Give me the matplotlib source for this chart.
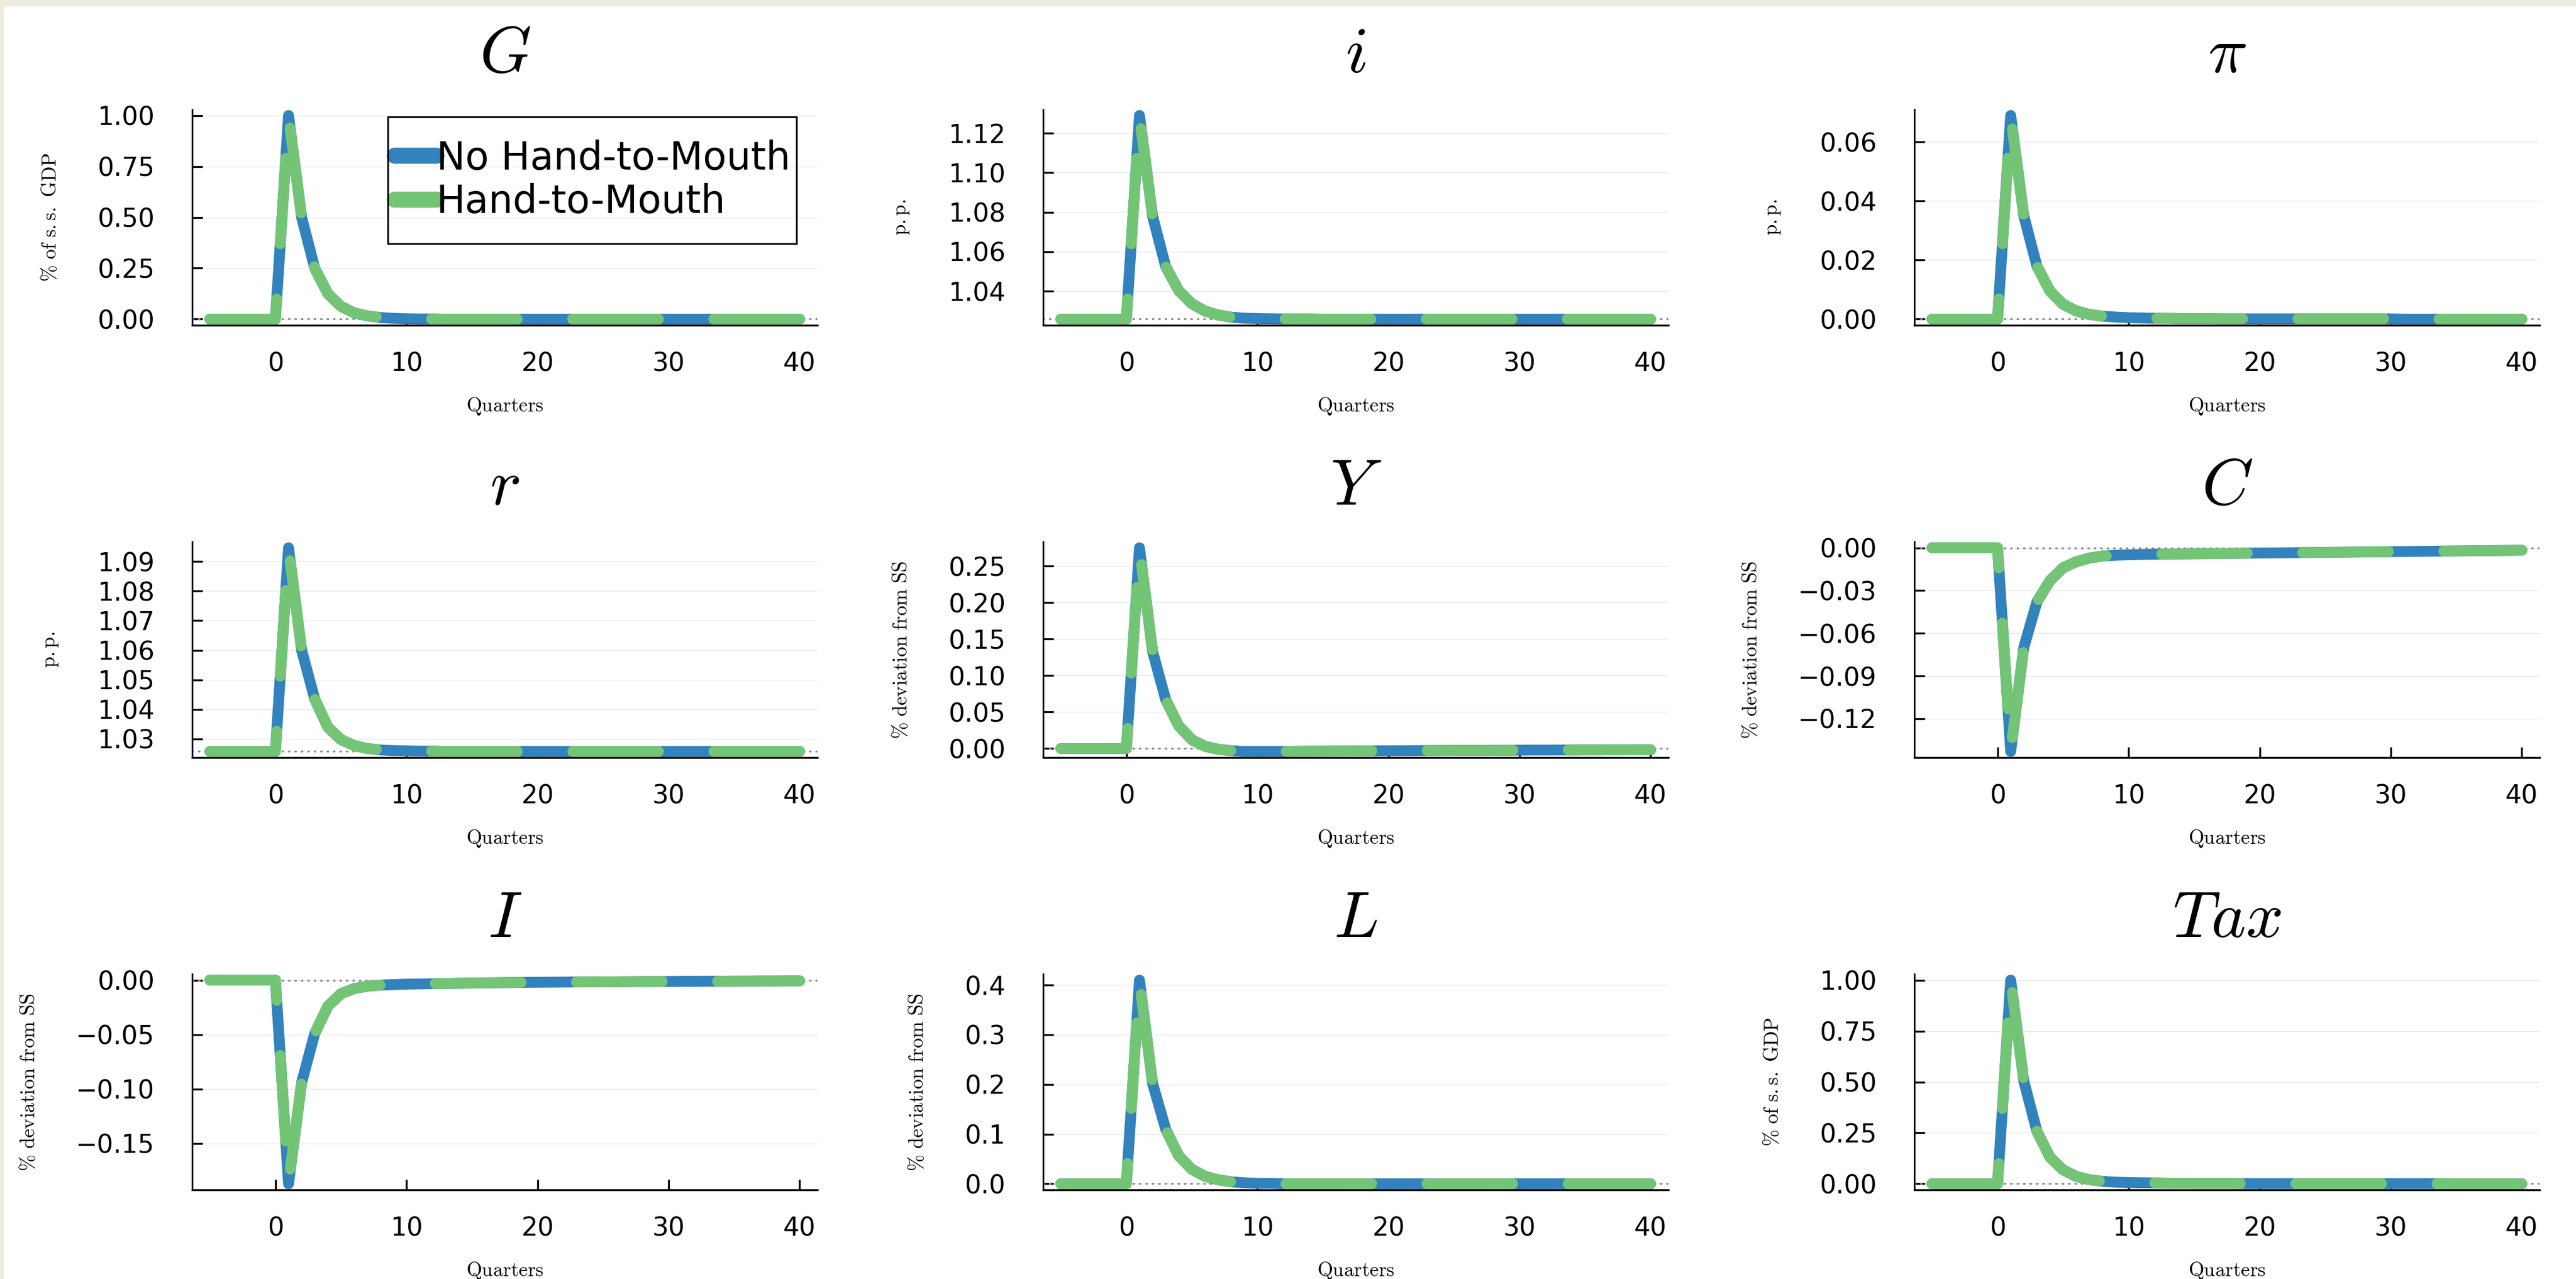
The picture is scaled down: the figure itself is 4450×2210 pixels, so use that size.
import numpy as np
import matplotlib
matplotlib.use("Agg")
import matplotlib.pyplot as plt
from matplotlib.patches import Rectangle
from matplotlib.ticker import FixedLocator, FuncFormatter

plt.rcParams['font.family'] = 'DejaVu Sans'
plt.rcParams['mathtext.fontset'] = 'cm'

# quarters relative to the shock
quarters = np.arange(-5, 41)

# steady-state levels (pre-shock values)
ss_zero = 0.0
ss_rate = 1.0258

# impulse responses, quarters 1..40 (No Hand-to-Mouth)
G_no = [1.000, 0.500, 0.250, 0.125, 0.063, 0.031, 0.016, 0.008, 0.004, 0.002,
        0.001, 0.001, 0.000, 0.000, 0.000, 0.000, 0.000, 0.000, 0.000, 0.000,
        0.000, 0.000, 0.000, 0.000, 0.000, 0.000, 0.000, 0.000, 0.000, 0.000,
        0.000, 0.000, 0.000, 0.000, 0.000, 0.000, 0.000, 0.000, 0.000, 0.000]
i_no = [1.1290, 1.0780, 1.0524, 1.0402, 1.0336, 1.0299, 1.0279, 1.0268, 1.0263, 1.0261,
        1.0260, 1.0259, 1.0259, 1.0259, 1.0258, 1.0258, 1.0258, 1.0258, 1.0258, 1.0258,
        1.0258, 1.0258, 1.0258, 1.0258, 1.0258, 1.0258, 1.0258, 1.0258, 1.0258, 1.0258,
        1.0258, 1.0258, 1.0258, 1.0258, 1.0258, 1.0258, 1.0258, 1.0258, 1.0258, 1.0258]
pi_no = [0.0690, 0.0350, 0.0180, 0.0095, 0.0050, 0.0028, 0.0016, 0.0010, 0.0007, 0.0005,
         0.0004, 0.0003, 0.0003, 0.0002, 0.0002, 0.0002, 0.0001, 0.0001, 0.0001, 0.0001,
         0.0001, 0.0001, 0.0001, 0.0001, 0.0001, 0.0001, 0.0001, 0.0001, 0.0001, 0.0001,
         0.0000, 0.0000, 0.0000, 0.0000, 0.0000, 0.0000, 0.0000, 0.0000, 0.0000, 0.0000]
r_no = [1.0946, 1.0600, 1.0435, 1.0340, 1.0298, 1.0278, 1.0268, 1.0263, 1.0261, 1.0260,
        1.0259, 1.0259, 1.0258, 1.0258, 1.0258, 1.0258, 1.0258, 1.0258, 1.0258, 1.0258,
        1.0258, 1.0258, 1.0258, 1.0258, 1.0258, 1.0258, 1.0258, 1.0258, 1.0258, 1.0258,
        1.0258, 1.0258, 1.0258, 1.0258, 1.0258, 1.0258, 1.0258, 1.0258, 1.0258, 1.0258]
Y_no = [0.2750, 0.1330, 0.0670, 0.0310, 0.0120, 0.0030, -0.0010, -0.0030, -0.0040, -0.0040,
        -0.0040, -0.0040, -0.0038, -0.0037, -0.0036, -0.0035, -0.0034, -0.0033, -0.0032, -0.0031,
        -0.0030, -0.0029, -0.0028, -0.0027, -0.0026, -0.0025, -0.0024, -0.0023, -0.0023, -0.0022,
        -0.0021, -0.0021, -0.0020, -0.0020, -0.0019, -0.0019, -0.0018, -0.0018, -0.0017, -0.0017]
C_no = [-0.1430, -0.0700, -0.0380, -0.0230, -0.0140, -0.0098, -0.0072, -0.0058, -0.0052, -0.0049,
        -0.0047, -0.0045, -0.0044, -0.0043, -0.0042, -0.0041, -0.0040, -0.0039, -0.0038, -0.0037,
        -0.0036, -0.0035, -0.0034, -0.0033, -0.0032, -0.0031, -0.0030, -0.0029, -0.0028, -0.0027,
        -0.0026, -0.0025, -0.0024, -0.0023, -0.0022, -0.0021, -0.0020, -0.0019, -0.0018, -0.0017]
I_no = [-0.1870, -0.0940, -0.0490, -0.0240, -0.0125, -0.0078, -0.0056, -0.0046, -0.0041, -0.0037,
        -0.0035, -0.0033, -0.0031, -0.0029, -0.0027, -0.0025, -0.0024, -0.0022, -0.0021, -0.0020,
        -0.0019, -0.0018, -0.0017, -0.0016, -0.0015, -0.0015, -0.0014, -0.0013, -0.0013, -0.0012,
        -0.0011, -0.0011, -0.0010, -0.0010, -0.0009, -0.0009, -0.0008, -0.0008, -0.0007, -0.0007]
L_no = [0.410, 0.202, 0.110, 0.056, 0.029, 0.015, 0.008, 0.004, 0.002, 0.001,
        0.001, 0.000, 0.000, 0.000, 0.000, 0.000, 0.000, 0.000, 0.000, 0.000,
        0.000, 0.000, 0.000, 0.000, 0.000, 0.000, 0.000, 0.000, 0.000, 0.000,
        0.000, 0.000, 0.000, 0.000, 0.000, 0.000, 0.000, 0.000, 0.000, 0.000]
Tax_no = [1.000, 0.505, 0.258, 0.130, 0.068, 0.036, 0.020, 0.012, 0.008, 0.006,
          0.005, 0.004, 0.003, 0.003, 0.002, 0.002, 0.002, 0.002, 0.001, 0.001,
          0.001, 0.001, 0.001, 0.001, 0.001, 0.001, 0.001, 0.001, 0.001, 0.001,
          0.001, 0.001, 0.001, 0.001, 0.000, 0.000, 0.000, 0.000, 0.000, 0.000]

# impulse responses, quarters 1..40 (Hand-to-Mouth)
G_htm = [1.000, 0.500, 0.250, 0.125, 0.063, 0.031, 0.016, 0.008, 0.004, 0.002,
         0.001, 0.001, 0.000, 0.000, 0.000, 0.000, 0.000, 0.000, 0.000, 0.000,
         0.000, 0.000, 0.000, 0.000, 0.000, 0.000, 0.000, 0.000, 0.000, 0.000,
         0.000, 0.000, 0.000, 0.000, 0.000, 0.000, 0.000, 0.000, 0.000, 0.000]
i_htm = [1.1288, 1.0779, 1.0524, 1.0402, 1.0336, 1.0299, 1.0279, 1.0268, 1.0263, 1.0261,
         1.0260, 1.0259, 1.0259, 1.0259, 1.0258, 1.0258, 1.0258, 1.0258, 1.0258, 1.0258,
         1.0258, 1.0258, 1.0258, 1.0258, 1.0258, 1.0258, 1.0258, 1.0258, 1.0258, 1.0258,
         1.0258, 1.0258, 1.0258, 1.0258, 1.0258, 1.0258, 1.0258, 1.0258, 1.0258, 1.0258]
pi_htm = [0.0688, 0.0350, 0.0180, 0.0095, 0.0050, 0.0028, 0.0016, 0.0010, 0.0007, 0.0005,
          0.0004, 0.0003, 0.0003, 0.0002, 0.0002, 0.0002, 0.0001, 0.0001, 0.0001, 0.0001,
          0.0001, 0.0001, 0.0001, 0.0001, 0.0001, 0.0001, 0.0001, 0.0001, 0.0001, 0.0001,
          0.0000, 0.0000, 0.0000, 0.0000, 0.0000, 0.0000, 0.0000, 0.0000, 0.0000, 0.0000]
r_htm = [1.0945, 1.0600, 1.0435, 1.0340, 1.0298, 1.0278, 1.0268, 1.0263, 1.0261, 1.0260,
         1.0259, 1.0259, 1.0258, 1.0258, 1.0258, 1.0258, 1.0258, 1.0258, 1.0258, 1.0258,
         1.0258, 1.0258, 1.0258, 1.0258, 1.0258, 1.0258, 1.0258, 1.0258, 1.0258, 1.0258,
         1.0258, 1.0258, 1.0258, 1.0258, 1.0258, 1.0258, 1.0258, 1.0258, 1.0258, 1.0258]
Y_htm = [0.2740, 0.1330, 0.0670, 0.0310, 0.0120, 0.0030, -0.0010, -0.0030, -0.0040, -0.0040,
         -0.0040, -0.0040, -0.0038, -0.0037, -0.0036, -0.0035, -0.0034, -0.0033, -0.0032, -0.0031,
         -0.0030, -0.0029, -0.0028, -0.0027, -0.0026, -0.0025, -0.0024, -0.0023, -0.0023, -0.0022,
         -0.0021, -0.0021, -0.0020, -0.0020, -0.0019, -0.0019, -0.0018, -0.0018, -0.0017, -0.0017]
C_htm = [-0.1425, -0.0700, -0.0380, -0.0230, -0.0140, -0.0098, -0.0072, -0.0058, -0.0052, -0.0049,
         -0.0047, -0.0045, -0.0044, -0.0043, -0.0042, -0.0041, -0.0040, -0.0039, -0.0038, -0.0037,
         -0.0036, -0.0035, -0.0034, -0.0033, -0.0032, -0.0031, -0.0030, -0.0029, -0.0028, -0.0027,
         -0.0026, -0.0025, -0.0024, -0.0023, -0.0022, -0.0021, -0.0020, -0.0019, -0.0018, -0.0017]
I_htm = [-0.1860, -0.0940, -0.0490, -0.0240, -0.0125, -0.0078, -0.0056, -0.0046, -0.0041, -0.0037,
         -0.0035, -0.0033, -0.0031, -0.0029, -0.0027, -0.0025, -0.0024, -0.0022, -0.0021, -0.0020,
         -0.0019, -0.0018, -0.0017, -0.0016, -0.0015, -0.0015, -0.0014, -0.0013, -0.0013, -0.0012,
         -0.0011, -0.0011, -0.0010, -0.0010, -0.0009, -0.0009, -0.0008, -0.0008, -0.0007, -0.0007]
L_htm = [0.408, 0.202, 0.110, 0.056, 0.029, 0.015, 0.008, 0.004, 0.002, 0.001,
         0.001, 0.000, 0.000, 0.000, 0.000, 0.000, 0.000, 0.000, 0.000, 0.000,
         0.000, 0.000, 0.000, 0.000, 0.000, 0.000, 0.000, 0.000, 0.000, 0.000,
         0.000, 0.000, 0.000, 0.000, 0.000, 0.000, 0.000, 0.000, 0.000, 0.000]
Tax_htm = [1.000, 0.505, 0.258, 0.130, 0.068, 0.036, 0.020, 0.012, 0.008, 0.006,
           0.005, 0.004, 0.003, 0.003, 0.002, 0.002, 0.002, 0.002, 0.001, 0.001,
           0.001, 0.001, 0.001, 0.001, 0.001, 0.001, 0.001, 0.001, 0.001, 0.001,
           0.001, 0.001, 0.001, 0.001, 0.000, 0.000, 0.000, 0.000, 0.000, 0.000]

titles = [r'$G$', r'$i$', r'$\pi$', r'$r$', r'$Y$', r'$C$', r'$I$', r'$L$', r'$Tax$']
ylabels = [r'$\mathrm{\%\ of\ s.s.\ GDP}$', r'$\mathrm{p.p.}$', r'$\mathrm{p.p.}$',
           r'$\mathrm{p.p.}$', r'$\mathrm{\%\ deviation\ from\ SS}$', r'$\mathrm{\%\ deviation\ from\ SS}$',
           r'$\mathrm{\%\ deviation\ from\ SS}$', r'$\mathrm{\%\ deviation\ from\ SS}$', r'$\mathrm{\%\ of\ s.s.\ GDP}$']
steady = [ss_zero, ss_rate, ss_zero, ss_rate, ss_zero, ss_zero, ss_zero, ss_zero, ss_zero]
series_no = [G_no, i_no, pi_no, r_no, Y_no, C_no, I_no, L_no, Tax_no]
series_htm = [G_htm, i_htm, pi_htm, r_htm, Y_htm, C_htm, I_htm, L_htm, Tax_htm]
yticks = [[0.0, 0.25, 0.5, 0.75, 1.0],
          [1.04, 1.06, 1.08, 1.10, 1.12],
          [0.0, 0.02, 0.04, 0.06],
          [1.03, 1.04, 1.05, 1.06, 1.07, 1.08, 1.09],
          [0.0, 0.05, 0.10, 0.15, 0.20, 0.25],
          [-0.12, -0.09, -0.06, -0.03, 0.0],
          [-0.15, -0.10, -0.05, 0.0],
          [0.0, 0.1, 0.2, 0.3, 0.4],
          [0.0, 0.25, 0.5, 0.75, 1.0]]
ydigits = [2, 2, 2, 2, 2, 2, 2, 1, 2]
xticks = [0, 10, 20, 30, 40]
labels = ['No Hand-to-Mouth', 'Hand-to-Mouth']

blue = '#3182bd'
green = '#74c476'

W, H = 4450, 2210
fig = plt.figure(figsize=(W / 100, H / 100), dpi=100, facecolor='white')

# thin beige frame along the top and left edge
fig.add_artist(Rectangle((0, 1 - 11 / H), 1, 11 / H, transform=fig.transFigure,
                         color='#efebe1', lw=0, zorder=-5))
fig.add_artist(Rectangle((0, 0), 7 / W, 1, transform=fig.transFigure,
                         color='#efebe1', lw=0, zorder=-5))

col_left = [332, 1802, 3307]
row_top = [189, 936, 1683]
ax_w, ax_h = 1080, 373


def fmt_factory(nd):
    def f(v, pos):
        s = f'{v:.{nd}f}'
        if s.startswith('-') and float(s) != 0:
            s = '\u2212' + s[1:]
        elif s.startswith('-'):
            s = s[1:]
        return s
    return f


axes = []
for k in range(9):
    r, c = divmod(k, 3)
    ax = fig.add_axes([col_left[c] / W, 1 - (row_top[r] + ax_h) / H, ax_w / W, ax_h / H])
    axes.append(ax)

    ss = steady[k]
    y_no = np.r_[np.full(6, ss), series_no[k]]
    y_htm = np.r_[np.full(6, ss), series_htm[k]]

    ax.axhline(ss, color='#8a8a8a', lw=2.5, ls=(0, (0.3, 2.9)), dash_capstyle='round', zorder=1)
    ax.plot(quarters, y_no, color=blue, lw=13.5, solid_capstyle='round',
            solid_joinstyle='round', zorder=2, label=labels[0])
    ax.plot(quarters, y_htm, color=green, lw=13.5, dashes=(7.9, 5.1),
            dash_capstyle='round', solid_joinstyle='round', zorder=3, label=labels[1])

    lo = min(y_no.min(), y_htm.min(), ss)
    hi = max(y_no.max(), y_htm.max(), ss)
    span = hi - lo
    ax.set_ylim(lo - 0.03 * span, hi + 0.03 * span)
    ax.set_xlim(-6.35, 41.35)

    ax.xaxis.set_major_locator(FixedLocator(xticks))
    ax.yaxis.set_major_locator(FixedLocator(yticks[k]))
    ax.yaxis.set_major_formatter(FuncFormatter(fmt_factory(ydigits[k])))

    ax.yaxis.grid(True, color='#e8e8e8', lw=1.0)
    ax.set_axisbelow(True)
    for side in ['top', 'right']:
        ax.spines[side].set_visible(False)
    ax.spines['left'].set_linewidth(2.0)
    ax.spines['bottom'].set_linewidth(2.4)

    ax.tick_params(axis='both', direction='in', length=13, width=2.4, labelsize=32)
    ax.tick_params(axis='x', pad=33)
    ax.tick_params(axis='y', pad=47)

    ax.set_title(titles[k], fontsize=82, pad=46)
    ax.set_xlabel(r'$\mathrm{Quarters}$', fontsize=25, labelpad=24)
    ax.set_ylabel(ylabels[k], fontsize=25, labelpad=46)

# legend in the G panel
ax0 = axes[0]
leg = ax0.legend(loc='center left', bbox_to_anchor=(682 / W, 1 - 311.5 / H),
                 bbox_transform=fig.transFigure, frameon=False, fontsize=48,
                 borderpad=0, borderaxespad=0, handlelength=1.08, handletextpad=0.0,
                 labelspacing=0.14)
for h in leg.get_lines():
    h.set_linewidth(20)
    h.set_linestyle('-')
    h.set_solid_capstyle('round')
fig.add_artist(Rectangle((670 / W, 1 - 421 / H), 706 / W, 219 / H, transform=fig.transFigure,
                         fill=False, ec='black', lw=2.2, zorder=5))

fig.savefig('out.png', dpi=100, facecolor='white')
